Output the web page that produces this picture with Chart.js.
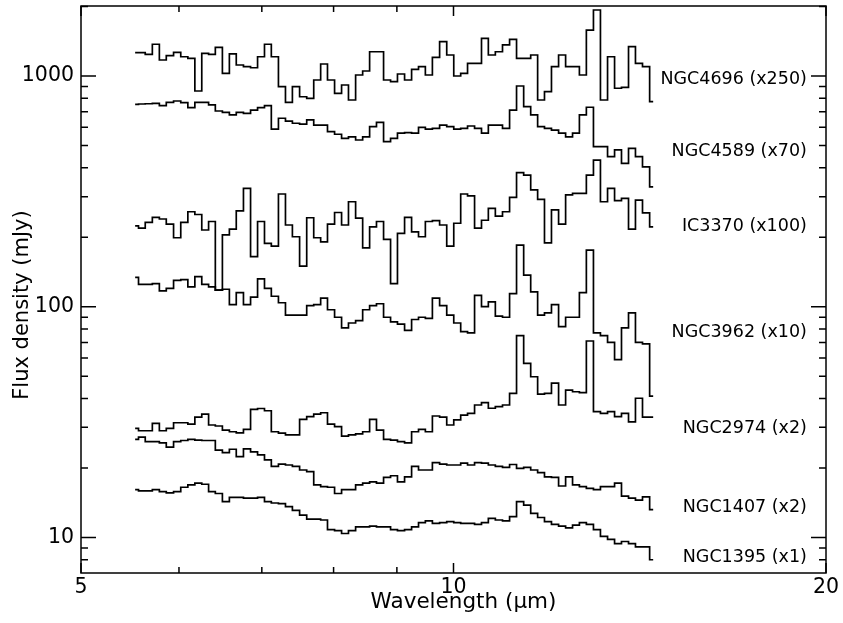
<!DOCTYPE html>
<html>
<head>
<meta charset="utf-8">
<script src="https://cdn.jsdelivr.net/npm/chart.js@4"></script>
<style>
  html, body { margin: 0; padding: 0; background: #fff; }
  #wrap { width: 843px; height: 623px; position: relative; }
</style>
</head>
<body>
<div id="wrap"><canvas id="spectra"></canvas></div>
<script>
// bin centres (micron), shared by every spectrum
const wavelength = [
  5.53, 5.60, 5.67, 5.75, 5.82, 5.90, 5.98, 6.06, 6.14, 6.22,
  6.30, 6.38, 6.46, 6.55, 6.63, 6.72, 6.81, 6.90, 6.99, 7.08,
  7.17, 7.27, 7.36, 7.46, 7.56, 7.66, 7.76, 7.86, 7.96, 8.07,
  8.17, 8.28, 8.39, 8.50, 8.61, 8.72, 8.84, 8.95, 9.07, 9.19,
  9.31, 9.43, 9.55, 9.68, 9.81, 9.94, 10.07, 10.20, 10.33, 10.47,
  10.60, 10.74, 10.88, 11.03, 11.17, 11.32, 11.47, 11.62, 11.77, 11.92,
  12.08, 12.24, 12.40, 12.56, 12.72, 12.89, 13.06, 13.23, 13.41, 13.58,
  13.76, 13.94, 14.12, 14.31, 14.50
];

// scaled flux densities (mJy)
const ngc4696 = [
  1262, 1262, 1242, 1373, 1173, 1225, 1267, 1212, 1193, 861,
  1254, 1242, 1331, 1027, 1246, 1116, 1097, 1086, 1212, 1373,
  1212, 899, 769, 899, 813, 800, 961, 1127, 961, 841,
  914, 787, 1010, 1051, 1274, 1274, 961, 945, 1020, 961,
  1069, 1097, 1010, 1205, 1408, 1233, 1000, 1027, 1135, 1135,
  1457, 1233, 1274, 1363, 1440, 1193, 1193, 1233, 787, 855,
  1097, 1233, 1097, 1097, 1010, 1582, 1932, 787, 1212, 885,
  893, 1340, 1135, 1097, 774
];
const ngc4589 = [
  754, 756, 758, 761, 744, 769, 779, 766, 729, 769,
  769, 749, 705, 696, 678, 696, 689, 712, 729, 744,
  589, 656, 638, 624, 618, 645, 613, 613, 574, 559,
  537, 545, 528, 545, 603, 630, 519, 537, 565, 568,
  565, 599, 588, 593, 613, 603, 588, 593, 607, 593,
  565, 613, 613, 593, 712, 905, 736, 678, 603, 593,
  583, 565, 545, 565, 678, 732, 494, 494, 447, 478,
  418, 486, 447, 404, 331
];
const ic3370 = [
  224, 219, 232, 244, 240, 228, 199, 232, 258, 251,
  215, 234, 118, 205, 217, 260, 326, 165, 234, 188,
  183, 308, 226, 201, 150, 243, 199, 191, 228, 256,
  226, 285, 242, 180, 222, 234, 196, 126, 208, 244,
  211, 201, 234, 236, 226, 183, 230, 308, 302, 219,
  237, 267, 247, 258, 298, 381, 372, 321, 292, 189,
  263, 228, 305, 310, 310, 372, 432, 285, 326, 288,
  295, 217, 290, 255, 222
];
const ngc3962 = [
  134, 125, 125, 126, 117, 120, 130, 131, 122, 135,
  125, 122, 118, 119, 102, 115, 102, 110, 132, 120,
  111, 104, 92, 92, 92, 101, 102, 109, 97, 90,
  81, 85, 87, 97, 101, 103, 90, 86, 84, 79,
  88, 90, 89, 109, 101, 92, 85, 78, 77, 112,
  100, 105, 91, 90, 114, 185, 137, 116, 92, 94,
  102, 82, 90, 90, 115, 176, 77, 75, 70, 59,
  81, 94, 70, 69, 41
];
const ngc2974 = [
  29.7, 29.0, 29.0, 31.2, 29.0, 29.7, 31.4, 31.4, 31.0, 33.2,
  34.2, 30.7, 30.4, 29.2, 28.7, 28.4, 29.4, 35.9, 36.2, 35.4,
  28.7, 28.3, 27.8, 27.8, 32.5, 33.4, 34.2, 34.7, 31.0, 30.2,
  27.5, 27.8, 28.1, 28.7, 32.5, 29.2, 26.6, 26.4, 26.0, 25.7,
  28.7, 29.4, 28.7, 33.6, 33.2, 30.7, 32.3, 33.9, 34.5, 37.5,
  38.4, 36.3, 36.9, 37.5, 42.1, 75.0, 56.8, 49.7, 41.8, 42.1,
  46.6, 37.5, 43.5, 42.8, 42.4, 71.0, 35.1, 34.5, 35.1, 33.4,
  34.5, 31.7, 40.1, 33.2, 33.2
];
const ngc1407 = [
  26.6, 27.2, 26.0, 26.0, 25.7, 24.6, 26.0, 26.3, 26.6, 26.4,
  26.3, 26.3, 23.9, 23.3, 24.1, 22.4, 24.2, 23.5, 22.8, 21.7,
  20.3, 20.8, 20.6, 20.3, 19.6, 19.3, 16.9, 16.6, 16.5, 15.5,
  16.1, 16.1, 16.9, 17.2, 17.4, 17.2, 18.2, 18.5, 17.4, 18.3,
  20.3, 19.6, 19.6, 21.1, 20.8, 20.6, 20.6, 21.0, 20.6, 21.1,
  21.0, 20.6, 20.3, 20.1, 20.7, 19.9, 20.1, 19.6, 19.1, 18.3,
  18.2, 16.7, 18.3, 16.9, 16.6, 16.3, 16.1, 16.6, 16.6, 17.2,
  15.1, 14.8, 14.5, 15.0, 13.2
];
const ngc1395 = [
  16.1, 15.9, 15.9, 16.1, 15.8, 15.6, 15.8, 16.5, 16.9, 17.2,
  17.0, 15.8, 15.5, 14.3, 14.9, 14.9, 14.8, 14.8, 14.9, 14.3,
  14.1, 14.0, 13.6, 13.1, 12.5, 12.0, 12.0, 11.9, 10.8, 10.7,
  10.4, 10.7, 11.1, 11.1, 11.2, 11.1, 11.1, 10.8, 10.7, 10.8,
  11.1, 11.6, 11.8, 11.5, 11.6, 11.7, 11.6, 11.5, 11.5, 11.4,
  11.6, 12.1, 11.9, 11.8, 12.3, 14.3, 13.8, 12.7, 12.2, 11.7,
  11.4, 11.2, 11.0, 11.3, 11.6, 11.4, 10.8, 10.1, 9.8, 9.4,
  9.6, 9.4, 9.1, 9.1, 8.0
];

const seriesNames = [
  "NGC4696 (x250)", "NGC4589 (x70)", "IC3370 (x100)", "NGC3962 (x10)",
  "NGC2974 (x2)", "NGC1407 (x2)", "NGC1395 (x1)"
];
const seriesValues = [ngc4696, ngc4589, ic3370, ngc3962, ngc2974, ngc1407, ngc1395];

// tick labels / tick marks
const xTickLabels = [5, 10, 20];
const xMinorTicks = [6, 7, 8, 9];
const yTickLabels = [10, 100, 1000];
const yMinorTicks = [8, 9, 20, 30, 40, 50, 60, 70, 80, 90,
                     200, 300, 400, 500, 600, 700, 800, 900, 2000];

const FONT = "'DejaVu Sans', sans-serif";

const datasets = seriesValues.map((vals, k) => ({
  label: seriesNames[k],
  data: wavelength.map((w, i) => ({ x: w, y: vals[i] })),
  stepped: 'middle',
  borderColor: '#000',
  borderWidth: 1.7,
  pointRadius: 0,
  fill: false
}));

// frame, inward tick marks, series names and axis titles
const framePlugin = {
  id: 'framePlugin',
  afterDraw(chart, args, opts) {
    const { ctx, chartArea: a, scales: { x, y } } = chart;
    ctx.save();
    ctx.strokeStyle = '#000';
    ctx.lineWidth = 1.5;
    ctx.strokeRect(a.left, a.top, a.right - a.left, a.bottom - a.top);

    ctx.beginPath();
    const xTick = (v, len) => {
      const p = x.getPixelForValue(v);
      ctx.moveTo(p, a.bottom); ctx.lineTo(p, a.bottom - len);
      ctx.moveTo(p, a.top); ctx.lineTo(p, a.top + len);
    };
    const yTick = (v, len) => {
      const p = y.getPixelForValue(v);
      if (p < a.top || p > a.bottom) return;
      ctx.moveTo(a.left, p); ctx.lineTo(a.left + len, p);
      ctx.moveTo(a.right, p); ctx.lineTo(a.right - len, p);
    };
    xTickLabels.forEach(v => xTick(v, 10));
    xMinorTicks.forEach(v => xTick(v, 6));
    yTickLabels.forEach(v => yTick(v, 15));
    yMinorTicks.forEach(v => yTick(v, 7));
    ctx.stroke();

    ctx.fillStyle = '#000';
    ctx.font = '17.5px ' + FONT;
    ctx.textAlign = 'right';
    ctx.textBaseline = 'middle';
    seriesNames.forEach((t, i) => {
      ctx.fillText(t, x.getPixelForValue(opts.labelX), y.getPixelForValue(opts.labelY[i]));
    });

    ctx.font = '21.5px ' + FONT;
    ctx.textAlign = 'center';
    ctx.textBaseline = 'alphabetic';
    ctx.fillText('Wavelength (\u03bcm)', (a.left + a.right) / 2 + 10, 608);
    ctx.font = '21px ' + FONT;
    ctx.translate(28, 305);
    ctx.rotate(-Math.PI / 2);
    ctx.fillText('Flux density (mJy)', 0, 0);
    ctx.restore();
  }
};

new Chart(document.getElementById('spectra'), {
  type: 'line',
  data: { datasets },
  plugins: [framePlugin],
  options: {
    responsive: true,
    maintainAspectRatio: false,
    animation: false,
    devicePixelRatio: 1,
    layout: { padding: { left: 0, right: 17, top: 6, bottom: 0 } },
    scales: {
      x: {
        type: 'logarithmic',
        min: 5,
        max: 20,
        bounds: 'data',
        grid: { display: false, drawTicks: false },
        border: { display: false },
        afterBuildTicks: s => { s.ticks = xTickLabels.map(v => ({ value: v })); },
        afterFit: s => { s.height = 50; s.paddingLeft = 0; s.paddingRight = 0; },
        ticks: {
          autoSkip: false,
          maxRotation: 0,
          padding: 2,
          color: '#000',
          font: { family: FONT, size: 20.5 },
          callback: v => String(v)
        }
      },
      y: {
        type: 'logarithmic',
        min: 7.01,
        max: 2011,
        bounds: 'data',
        grid: { display: false, drawTicks: false },
        border: { display: false },
        afterBuildTicks: s => { s.ticks = yTickLabels.map(v => ({ value: v })); },
        afterFit: s => { s.width = 81; s.paddingTop = 0; s.paddingBottom = 0; },
        ticks: {
          autoSkip: false,
          padding: 7,
          color: '#000',
          font: { family: FONT, size: 20.5 },
          callback: v => String(v)
        }
      }
    },
    plugins: {
      legend: { display: false },
      tooltip: { enabled: false },
      framePlugin: {
        labelX: 19.3,
        labelY: [970, 469, 222, 77, 29.8, 13.5, 8.2]
      }
    }
  }
});
</script>
</body>
</html>
